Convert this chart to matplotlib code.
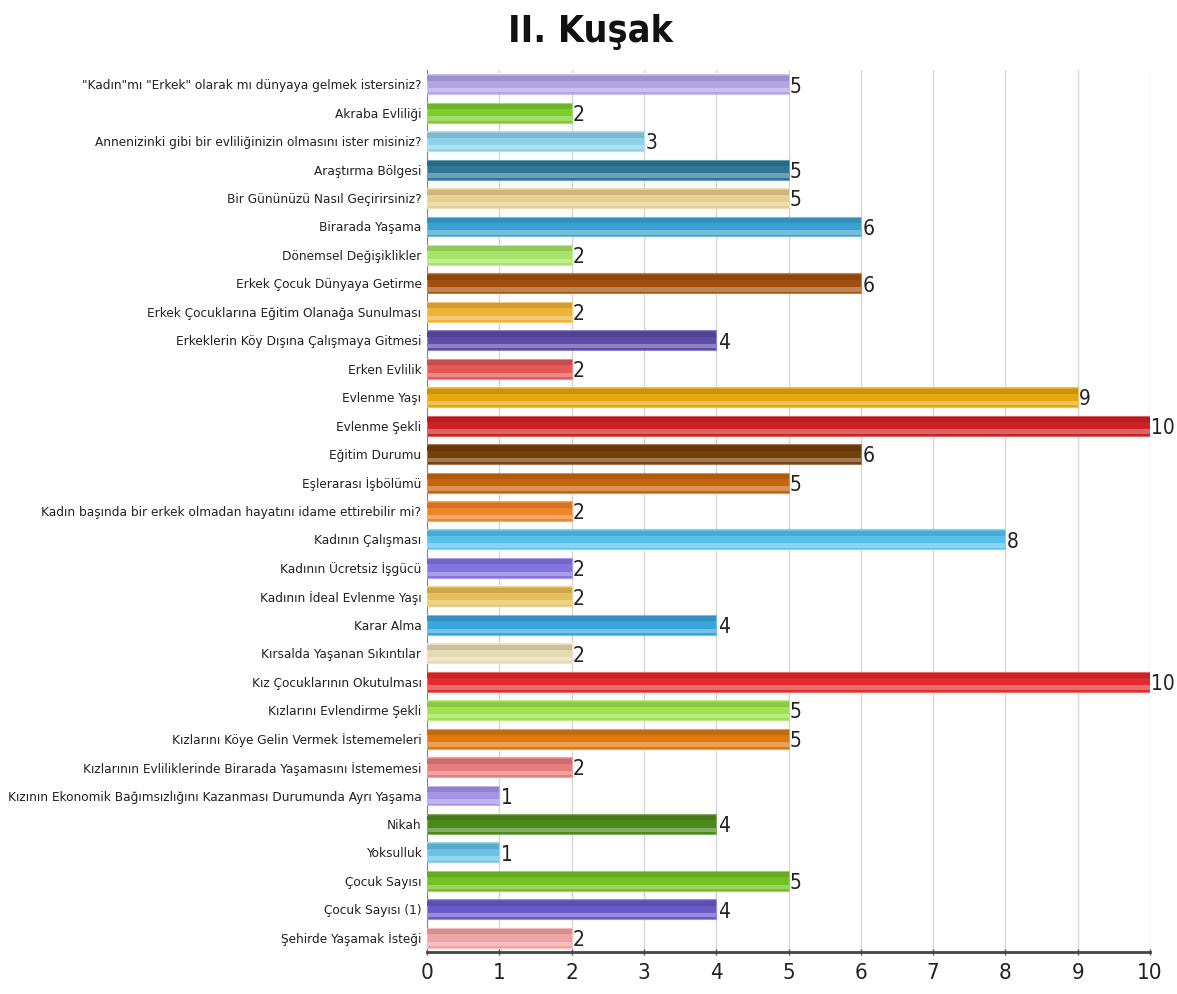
import matplotlib
matplotlib.use("Agg")
import matplotlib.pyplot as plt
from matplotlib import font_manager
import matplotlib.colors as mcolors
import numpy as np

categories = [
    '"Kadın"mı "Erkek" olarak mı dünyaya gelmek istersiniz?',
    'Akraba Evliliği',
    'Annenizinki gibi bir evliliğinizin olmasını ister misiniz?',
    'Araştırma Bölgesi',
    'Bir Gününüzü Nasıl Geçirirsiniz?',
    'Birarada Yaşama',
    'Dönemsel Değişiklikler',
    'Erkek Çocuk Dünyaya Getirme',
    'Erkek Çocuklarına Eğitim Olanağa Sunulması',
    'Erkeklerin Köy Dışına Çalışmaya Gitmesi',
    'Erken Evlilik',
    'Evlenme Yaşı',
    'Evlenme Şekli',
    'Eğitim Durumu',
    'Eşlerarası İşbölümü',
    'Kadın başında bir erkek olmadan hayatını idame ettirebilir mi?',
    'Kadının Çalışması',
    'Kadının Ücretsiz İşgücü',
    'Kadının İdeal Evlenme Yaşı',
    'Karar Alma',
    'Kırsalda Yaşanan Sıkıntılar',
    'Kız Çocuklarının Okutulması',
    'Kızlarını Evlendirme Şekli',
    'Kızlarını Köye Gelin Vermek İstememeleri',
    'Kızlarının Evliliklerinde Birarada Yaşamasını İstememesi',
    'Kızının Ekonomik Bağımsızlığını Kazanması Durumunda Ayrı Yaşama',
    'Nikah',
    'Yoksulluk',
    'Çocuk Sayısı',
    'Çocuk Sayısı (1)',
    'Şehirde Yaşamak İsteği',
]
values = [5, 2, 3, 5, 5, 6, 2, 6, 2, 4, 2, 9, 10, 6, 5, 2, 8, 2, 2, 4, 2, 10, 5, 5, 2, 1, 4, 1, 5, 4, 2]
colors = [
    '#b4a4e6', '#7ccc2c', '#90d2ec', '#2c7896', '#e8d090', '#38a2d2', '#a8e468',
    '#a0500c', '#eeb438', '#5c4ca6', '#e65858', '#e6a810', '#cc2224', '#74400a',
    '#c8640c', '#ee8428', '#58c2ec', '#8474e0', '#e8be58', '#38a6dc', '#e6dab4',
    '#e02c2c', '#a0e250', '#e07810', '#e87c7c', '#a494e8', '#4c8a1c', '#68c4e4',
    '#72c222', '#6a5ac8', '#f0a4a4',
]
xticks = list(range(0, 11))
title = "II. Kuşak"

# look for a condensed / narrow sans font
cond_reg = None
cond_bold = None
for f in font_manager.fontManager.ttflist:
    nm = (f.name + " " + str(f.stretch)).lower()
    fn = f.fname.lower()
    if ('narrow' in nm or 'condensed' in nm or 'narrow' in fn or 'condensed' in fn) and 'serif' not in f.name.lower() and 'mono' not in f.name.lower() and 'oblique' not in fn and 'italic' not in fn:
        w = f.weight if isinstance(f.weight, int) else (700 if 'bold' in str(f.weight) else 400)
        if w >= 600:
            if cond_bold is None:
                cond_bold = f.fname
        else:
            if cond_reg is None:
                cond_reg = f.fname

plt.rcParams['font.family'] = ['Liberation Sans', 'DejaVu Sans']
if cond_reg:
    lab_fp = font_manager.FontProperties(fname=cond_reg, size=9.7)
    val_fp = font_manager.FontProperties(fname=cond_reg, size=15)
    tick_fp = font_manager.FontProperties(fname=cond_reg, size=16)
else:
    lab_fp = font_manager.FontProperties(family='Liberation Sans', size=9.2)
    val_fp = font_manager.FontProperties(family='Liberation Sans', size=14)
    tick_fp = font_manager.FontProperties(family='Liberation Sans', size=14)
if cond_bold:
    title_fp = font_manager.FontProperties(fname=cond_bold, size=27)
else:
    title_fp = font_manager.FontProperties(family='Liberation Sans', weight='bold', size=24)

fig = plt.figure(figsize=(11.77, 9.94), dpi=100)
ax = fig.add_axes([427/1177, 1-952/994, (1150-427)/1177, (952-70)/994])

y = np.arange(len(categories))
h = 0.7

def lighten(c, f):
    r, g, b = mcolors.to_rgb(c)
    return (r + (1-r)*f, g + (1-g)*f, b + (1-b)*f)

def darken(c, f):
    r, g, b = mcolors.to_rgb(c)
    return (r*(1-f), g*(1-f), b*(1-f))

ax.barh(y, values, height=h, color=colors, edgecolor=[lighten(c, 0.3) for c in colors], linewidth=0.8, zorder=3)
ax.barh(y - h*0.3, values, height=h*0.25, color=[darken(c, 0.12) for c in colors], linewidth=0, zorder=4)
ax.barh(y + h*0.3, values, height=h*0.22, color=[lighten(c, 0.3) for c in colors], linewidth=0, zorder=4)

for yi, v in zip(y, values):
    ax.text(v + 0.02, yi + 0.08, str(v), va='center', ha='left', fontproperties=val_fp, color='#222222', zorder=5)

ax.set_xlim(0, 10)
ax.set_ylim(len(categories) - 0.5, -0.5)
ax.set_yticks(y)
ax.set_yticklabels(categories, fontproperties=lab_fp, color='#222222')
ax.set_xticks(xticks)
ax.set_xticklabels([str(t) for t in xticks], fontproperties=tick_fp, color='#222222')
ax.tick_params(axis='y', length=0, pad=4)
ax.tick_params(axis='x', length=4, width=1, color='#555555', pad=6, direction='inout')
ax.grid(axis='x', color='#d6d6d6', linewidth=1, zorder=0)
for s in ['top', 'right']:
    ax.spines[s].set_visible(False)
ax.spines['left'].set_color('#888888')
ax.spines['bottom'].set_color('#444444')
ax.spines['bottom'].set_linewidth(2)

fig.text(590/1177, 1-32/994, title, ha='center', va='center', fontproperties=title_fp, color='#111111')

fig.savefig('out.png', dpi=100)
